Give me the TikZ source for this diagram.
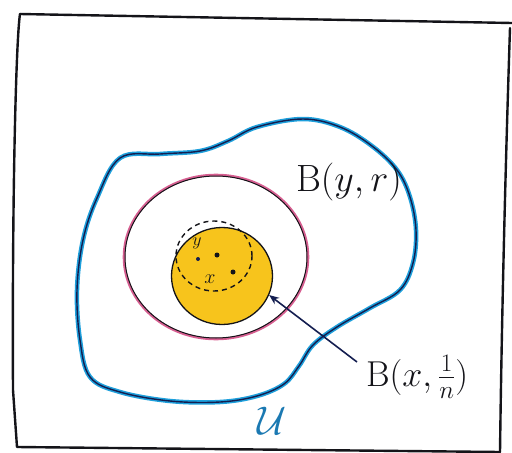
\RequirePackage{fix-cm}
\documentclass[tikz,border=0pt]{standalone}
\usepackage{amsmath}
\usetikzlibrary{arrows.meta,shapes.geometric}
\definecolor{inkblack}{RGB}{20,20,25}
\definecolor{skyblue}{RGB}{30,160,220}
\definecolor{navy}{RGB}{20,30,80}
\definecolor{rosepink}{RGB}{215,95,145}
\definecolor{yolk}{RGB}{247,196,28}
\tikzset{
  frameline/.style={draw=inkblack,line width=2.4pt,line cap=round,line join=round},
  blobouter/.style={draw=skyblue,line width=4.5pt},
  blobinner/.style={draw=navy,line width=1.4pt},
  pinkring/.style={draw=rosepink,line width=2.6pt},
  blackring/.style={draw=inkblack,line width=1.0pt},
  diskstyle/.style={ellipse,fill=yolk,draw=inkblack,line width=1.3pt,minimum width=101pt,minimum height=97pt,inner sep=0pt},
  dashring/.style={draw=inkblack,line width=1.4pt,dash pattern=on 5pt off 4pt},
  handlabel/.style={text=inkblack,inner sep=1pt},
  pointer/.style={draw=navy,line width=1.6pt,-{Stealth[length=10pt,width=8pt]}},
  dotstyle/.style={circle,fill=inkblack,inner sep=0pt,minimum size=5pt}
}
\begin{document}
\begin{tikzpicture}[x=1pt,y=-1pt]
\useasboundingbox (0,0) rectangle (512,453);
% frame
\draw[frameline] (20,14) .. controls (16,40) and (12,200) .. (13,390) -- (17,447) -- (500,452);
\draw[frameline] (20,14) -- (512,23);
\draw[frameline] (510,28) .. controls (506,150) and (502,300) .. (500,452);
% blue blob
\foreach \s in {blobouter,blobinner}{
\draw[\s] plot[smooth cycle,tension=0.6] coordinates {
 (120,158) (160,154) (200,151) (228,141) (257,127) (303,119) (340,127)
 (372,146) (397,170) (410,197) (416,230) (413,263) (400,290) (370,308)
 (337,327) (313,345) (299,366) (284,384) (257,396) (220,402) (170,401)
 (120,392) (90,377) (80,340) (77,290) (83,240) (97,198)};
}
% pink ring
\draw[pinkring] (216,257) ellipse [x radius=92pt,y radius=82pt];
\draw[blackring] (216,257) ellipse [x radius=91pt,y radius=81pt];
% yellow disk
\node[diskstyle] (disk) at (222,276) {};
% dashed ring
\draw[dashring] (214,256) ellipse [x radius=38pt,y radius=35pt];
% points
\node[dotstyle,fill=navy,minimum size=4pt] (py) at (198,259) {};
\node[handlabel,font=\fontsize{18}{20}\selectfont] (ly) at (197,243) {$y$};
\node[dotstyle] (p1) at (217,255) {};
\node[dotstyle] (p2) at (233,272) {};
\node[handlabel,font=\fontsize{20}{22}\selectfont] (lx) at (210,279) {$x$};
% labels
\node[handlabel,font=\fontsize{38}{42}\selectfont] (lby) at (349,182) {$\mathrm{B}(y,r)$};
\node[handlabel,font=\fontsize{36}{40}\selectfont] (lbx) at (417,377) {$\mathrm{B}(x,\frac{1}{n})$};
\node[handlabel,text=skyblue!70!navy,font=\fontsize{40}{44}\selectfont] (lu) at (272,421) {$\mathcal{U}$};
% arrow
\coordinate (tail) at (357,362);
\draw[pointer] (tail) -- (disk.-22);
\end{tikzpicture}
\end{document}
